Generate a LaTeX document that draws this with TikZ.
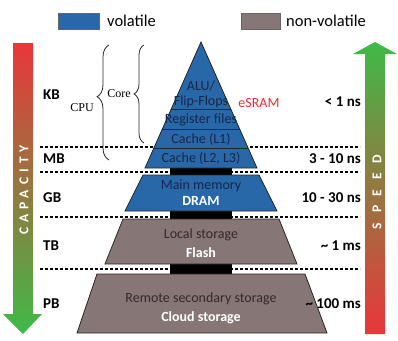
\documentclass[tikz,border=0pt]{standalone}
\usepackage{fontspec}
\setmainfont{Carlito}
\newfontfamily\cpufont{Liberation Serif}
\newfontfamily\capfont[LetterSpace=38]{Carlito}
\newfontfamily\spdfont[LetterSpace=72]{Carlito}
\usetikzlibrary{decorations.pathreplacing}
\definecolor{volblue}{RGB}{40,104,168}
\definecolor{nvgray}{RGB}{134,118,118}
\definecolor{capred}{RGB}{234,54,58}
\definecolor{capgreen}{RGB}{62,186,72}
\definecolor{navytext}{RGB}{24,38,72}
\definecolor{graytext}{RGB}{52,42,42}
\definecolor{esram}{RGB}{226,48,48}
\begin{document}
\begin{tikzpicture}[x=1pt,y=-1pt,
  lbl/.style={font=\fontsize{15}{17}\selectfont\bfseries, inner sep=0pt},
  tim/.style={font=\fontsize{15}{17}\selectfont\bfseries, inner sep=0pt, anchor=east},
  pyrtext/.style={font=\fontsize{14}{16}\selectfont, inner sep=0pt, text=navytext},
  nvtext/.style={font=\fontsize{14}{16}\selectfont, inner sep=0pt, text=graytext},
  wbold/.style={font=\fontsize{14}{16}\selectfont\bfseries, inner sep=0pt, text=white},
  legtext/.style={font=\fontsize{16.5}{18}\selectfont, inner sep=0pt, anchor=west},
  legbox/.style={draw=black!60, line width=0.5pt},
  levelline/.style={dash pattern=on 3pt off 2pt, line width=1.1pt},
  shapeline/.style={draw=black!85, line width=0.8pt},
  bracestyle/.style={draw=black!85, line width=0.8pt, decorate},
  cpulabel/.style={font=\cpufont\fontsize{12}{14}\selectfont, inner sep=0pt, anchor=east}
]
\useasboundingbox (0,0) rectangle (398,340);

% legend
\filldraw[legbox, fill=volblue] (58,13) rectangle (99,29);
\node[legtext] (legvol) at (107,21) {volatile};
\filldraw[legbox, fill=nvgray] (241,13) rectangle (280,29);
\node[legtext] (legnv) at (286,21) {non-volatile};

% capacity arrow
\shade[top color=capred, bottom color=capgreen]
  (13,43) -- (33,43) -- (33,314) -- (42,314) -- (23,334) -- (3,314) -- (13,314) -- cycle;
\node[inner sep=0pt, rotate=90, text=white, font=\capfont\fontsize{13.5}{15}\selectfont\bfseries] (cap) at (24,190) {CAPACITY};

% speed arrow
\shade[top color=capgreen, bottom color=capred]
  (365,334) -- (385,334) -- (385,54) -- (397,54) -- (375,42) -- (353,54) -- (365,54) -- cycle;
\node[inner sep=0pt, rotate=90, text=white, font=\spdfont\fontsize{13.5}{15}\selectfont\bfseries] (spd) at (377,192) {SPEED};

% dashed level lines
\draw[levelline] (40,147) -- (360,147);
\draw[levelline] (40,172) -- (360,172);
\draw[levelline] (40,217) -- (360,217);
\draw[levelline] (40,269) -- (360,269);

% black column
\fill[black] (170,165) rectangle (232,277);

% top triangle
\filldraw[shapeline, fill=volblue] (201,42) -- (257,168) -- (145,168) -- cycle;
\begin{scope}
  \clip (201,42) -- (257,168) -- (145,168) -- cycle;
  \draw[black!85, line width=0.8pt] (100,109) -- (300,109);
  \draw[black!85, line width=0.8pt] (100,129) -- (300,129);
  \draw[black!85, line width=0.8pt] (100,148) -- (300,148);
\end{scope}
\node[pyrtext] (alu) at (201,86) {ALU/};
\node[pyrtext] (ff) at (201,102) {Flip-Flops};
\node[pyrtext] (reg) at (201,120) {Register files};
\node[pyrtext] (l1) at (201,139) {Cache (L1)};
\node[pyrtext] (l23) at (201,158) {Cache (L2, L3)};
\node[font=\fontsize{14}{16}\selectfont, inner sep=0pt, text=esram] (esram) at (259,103) {eSRAM};

% main memory
\filldraw[shapeline, fill=volblue] (143,175) -- (259,175) -- (277,211) -- (125,211) -- cycle;
\node[pyrtext] (mm) at (201,186) {Main memory};
\node[wbold] (dram) at (201,201) {DRAM};

% local storage
\filldraw[shapeline, fill=nvgray] (123,219) -- (279,219) -- (297,264) -- (105,264) -- cycle;
\node[nvtext] (ls) at (201,235) {Local storage};
\node[wbold] (flash) at (201,253) {Flash};

% remote storage
\filldraw[shapeline, fill=nvgray] (97,274) -- (305,274) -- (327,333) -- (77,333) -- cycle;
\node[nvtext] (rs) at (201,299) {Remote secondary storage};
\node[wbold] (cloud) at (201,318) {Cloud storage};

% braces
\draw[bracestyle, decoration={brace, amplitude=10pt}] (144,143) -- (144,45);
\node[cpulabel] (core) at (131,94) {Core};
\draw[bracestyle, decoration={brace, amplitude=12pt, aspect=0.55}] (109,160) -- (109,45);
\node[cpulabel] (cpu) at (94,108) {CPU};

% capacity labels
\node[lbl, anchor=west] (kb) at (43,95) {KB};
\node[lbl, anchor=west] (mb) at (43,159) {MB};
\node[lbl, anchor=west] (gb) at (43,198) {GB};
\node[lbl, anchor=west] (tb) at (43,246) {TB};
\node[lbl, anchor=west] (pb) at (43,304) {PB};

% speed labels
\node[tim] (t1) at (361,102) {< 1 ns};
\node[tim] (t2) at (361,159) {3 - 10 ns};
\node[tim] (t3) at (361,198) {10 - 30 ns};
\node[tim] (t4) at (361,246) {\textasciitilde{} 1 ms};
\node[tim] (t5) at (361,304) {\textasciitilde{} 100 ms};
\end{tikzpicture}
\end{document}
